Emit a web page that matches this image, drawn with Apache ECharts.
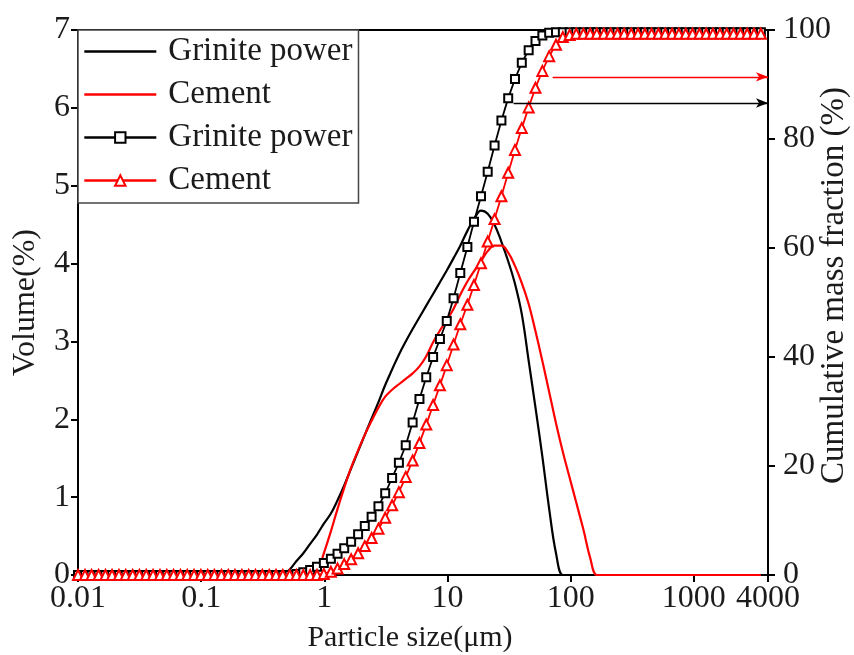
<!DOCTYPE html>
<html>
<head>
<meta charset="utf-8">
<script src="https://cdn.jsdelivr.net/npm/echarts@6/dist/echarts.min.js"></script>
<style>
  html, body { margin: 0; padding: 0; background: #fff; }
  #chart { width: 854px; height: 655px; }
</style>
</head>
<body>
<div id="chart"></div>
<script>
// Laser-diffraction size classes (µm)
const particleSizes = [
  0.0100, 0.0114, 0.0129, 0.0147, 0.0167, 0.0189, 0.0215, 0.0244, 0.0278, 0.0315,
  0.0358, 0.0407, 0.0463, 0.0526, 0.0597, 0.0679, 0.0771, 0.0876, 0.0995, 0.113,
  0.128, 0.146, 0.166, 0.188, 0.214, 0.243, 0.276, 0.314, 0.357, 0.405,
  0.460, 0.523, 0.594, 0.675, 0.767, 0.872, 0.991, 1.13, 1.28, 1.45,
  1.65, 1.88, 2.13, 2.42, 2.75, 3.12, 3.55, 4.03, 4.58, 5.21,
  5.92, 6.72, 7.64, 8.68, 9.86, 11.2, 12.7, 14.5, 16.4, 18.7,
  21.2, 24.1, 27.4, 31.1, 35.3, 40.1, 45.6, 51.8, 58.9, 66.9,
  76.0, 86.4, 98.1, 111, 127, 144, 163, 186, 211, 240,
  272, 310, 352, 400, 454, 516, 586, 666, 756, 859,
  976, 1110, 1260, 1430, 1630, 1850, 2100, 2390, 2710, 3080,
  3500
];

// Volume fraction per class (%)
const graniteVolume = [
  0, 0, 0, 0, 0, 0, 0, 0, 0, 0,
  0, 0, 0, 0, 0, 0, 0, 0, 0, 0,
  0, 0, 0, 0, 0, 0, 0, 0, 0, 0,
  0, 0.07, 0.18, 0.28, 0.40, 0.52, 0.66, 0.79, 0.96, 1.15,
  1.37, 1.59, 1.80, 2.01, 2.22, 2.44, 2.64, 2.83, 3.00, 3.16,
  3.31, 3.46, 3.61, 3.76, 3.91, 4.07, 4.23, 4.42, 4.57, 4.68,
  4.64, 4.50, 4.28, 4.03, 3.74, 3.35, 2.75, 2.15, 1.52, 0.85,
  0.28, 0, 0, 0, 0, 0, 0, 0, 0, 0,
  0, 0, 0, 0, 0, 0, 0, 0, 0, 0,
  0, 0, 0, 0, 0, 0, 0, 0, 0, 0,
  0
];
const cementVolume = [
  0, 0, 0, 0, 0, 0, 0, 0, 0, 0,
  0, 0, 0, 0, 0, 0, 0, 0, 0, 0,
  0, 0, 0, 0, 0, 0, 0, 0, 0, 0,
  0, 0, 0, 0, 0, 0.03, 0.28, 0.56, 0.85, 1.12,
  1.38, 1.60, 1.80, 1.98, 2.15, 2.29, 2.38, 2.45, 2.52, 2.59,
  2.68, 2.81, 2.99, 3.14, 3.27, 3.42, 3.60, 3.77, 3.90, 4.03,
  4.16, 4.23, 4.23, 4.14, 3.97, 3.75, 3.48, 3.13, 2.75, 2.35,
  1.95, 1.58, 1.25, 0.93, 0.58, 0.22, 0, 0, 0, 0,
  0, 0, 0, 0, 0, 0, 0, 0, 0, 0,
  0, 0, 0, 0, 0, 0, 0, 0, 0, 0,
  0
];

// Cumulative mass fraction below each size (%)
const graniteCumulative = [
  0, 0, 0, 0, 0, 0, 0, 0, 0, 0,
  0, 0, 0, 0, 0, 0, 0, 0, 0, 0,
  0, 0, 0, 0, 0, 0, 0, 0, 0, 0,
  0, 0, 0.2, 0.5, 0.9, 1.5, 2.2, 3.0, 3.9, 4.9,
  6.1, 7.5, 9.0, 10.7, 12.6, 15.0, 17.8, 20.6, 23.8, 28.0,
  32.3, 36.3, 40.0, 43.3, 46.6, 50.8, 55.4, 60.2, 64.8, 69.5,
  74.0, 78.8, 83.4, 87.5, 91.0, 94.0, 96.3, 98.0, 99.0, 99.5,
  99.6, 99.6, 99.6, 99.6, 99.6, 99.6, 99.6, 99.6, 99.6, 99.6,
  99.6, 99.6, 99.6, 99.6, 99.6, 99.6, 99.6, 99.6, 99.6, 99.6,
  99.6, 99.6, 99.6, 99.6, 99.6, 99.6, 99.6, 99.6, 99.6, 99.6,
  99.6
];
const cementCumulative = [
  0, 0, 0, 0, 0, 0, 0, 0, 0, 0,
  0, 0, 0, 0, 0, 0, 0, 0, 0, 0,
  0, 0, 0, 0, 0, 0, 0, 0, 0, 0,
  0, 0, 0, 0, 0, 0, 0.2, 0.6, 1.2, 2.0,
  2.9, 4.0, 5.3, 6.8, 8.5, 10.5, 12.8, 15.2, 18.0, 21.0,
  24.2, 27.6, 31.2, 34.8, 38.5, 42.3, 46.0, 49.6, 53.2, 57.2,
  61.2, 65.3, 69.5, 73.8, 78.0, 82.0, 85.8, 89.4, 92.5, 95.2,
  97.3, 98.7, 99.1, 99.3, 99.3, 99.3, 99.3, 99.3, 99.3, 99.3,
  99.3, 99.3, 99.3, 99.3, 99.3, 99.3, 99.3, 99.3, 99.3, 99.3,
  99.3, 99.3, 99.3, 99.3, 99.3, 99.3, 99.3, 99.3, 99.3, 99.3,
  99.3
];

// Axis ticks
const xTicks = [0.01, 0.1, 1, 10, 100, 1000, 4000];
const xTickLabels = ['0.01', '0.1', '1', '10', '100', '1000', '4000'];

// Arrows pointing the cumulative curves to the right-hand axis: start size (µm), level (%)
const graniteArrow = { from: 34.4, level: 86.6 };
const cementArrow = { from: 71.4, level: 91.4 };

// Legend entries: series id -> shown text
const legendText = {
  graniteVol: 'Grinite power',
  cementVol: 'Cement',
  graniteCum: 'Grinite power',
  cementCum: 'Cement'
};

const FONT = '"Liberation Serif", "Times New Roman", serif';
const TEXT = '#1b1b1b';
const BLACK = '#000000';
const RED = '#ff0000';

const pairs = (values) => particleSizes.map((s, i) => [s, values[i]]);

function arrowLine(arrow, color) {
  return {
    silent: true,
    symbol: ['none', 'arrow'],
    symbolSize: [7, 12],
    label: { show: false },
    lineStyle: { color: color, width: 1.3, type: 'solid' },
    data: [[
      { coord: [arrow.from, arrow.level] },
      { coord: [4000, arrow.level] }
    ]]
  };
}

const chart = echarts.init(document.getElementById('chart'), null, { renderer: 'canvas' });

chart.setOption({
  backgroundColor: '#ffffff',
  animation: false,
  grid: {
    left: 78, right: 86, top: 30, bottom: 80,
    outerBoundsMode: 'none',
    containLabel: false,
    show: true, borderColor: BLACK, borderWidth: 2, backgroundColor: 'transparent'
  },
  legend: {
    orient: 'vertical',
    left: 78, top: 30,
    padding: [5, 6, 6, 5],
    itemGap: 10,
    itemWidth: 72,
    itemHeight: 13,
    borderColor: '#444',
    borderWidth: 1.5,
    backgroundColor: '#fff',
    lineStyle: { width: 2.6 },
    formatter: (name) => legendText[name],
    textStyle: { fontFamily: FONT, fontSize: 33, color: TEXT, padding: [0, 0, 0, 7] },
    data: [
      { name: 'graniteVol', itemStyle: { opacity: 0 } },
      { name: 'cementVol', itemStyle: { opacity: 0 } },
      { name: 'graniteCum' },
      { name: 'cementCum' }
    ]
  },
  xAxis: {
    type: 'log',
    logBase: 10,
    min: 0.01,
    max: 4000,
    name: 'Particle size(μm)',
    nameLocation: 'middle',
    nameMoveOverlap: false,
    nameGap: 48,
    nameTextStyle: { fontFamily: FONT, fontSize: 30, color: TEXT, padding: [0, 26, 0, 0] },
    axisLine: { show: true, lineStyle: { color: BLACK, width: 2 } },
    axisTick: { show: true, inside: false, length: 7, lineStyle: { color: BLACK, width: 2 }, customValues: xTicks },
    axisLabel: {
      customValues: xTicks,
      fontFamily: FONT, fontSize: 32, color: TEXT, margin: 8,
      formatter: (v) => {
        const i = xTicks.findIndex(t => Math.abs(Math.log10(t) - Math.log10(v)) < 1e-6);
        return i >= 0 ? xTickLabels[i] : '';
      }
    },
    minorTick: { show: false },
    splitLine: { show: false }
  },
  yAxis: [
    {
      type: 'value',
      min: 0, max: 7, interval: 1,
      position: 'left',
      name: 'Volume(%)',
      nameLocation: 'middle',
      nameMoveOverlap: false,
      nameRotate: 90,
      nameGap: 36,
      nameTextStyle: { fontFamily: FONT, fontSize: 32, color: TEXT },
      axisLine: { show: true, lineStyle: { color: BLACK, width: 2 } },
      axisTick: { show: true, inside: false, length: 7, lineStyle: { color: BLACK, width: 2 } },
      axisLabel: { fontFamily: FONT, fontSize: 32, color: TEXT, margin: 8 },
      splitLine: { show: false }
    },
    {
      type: 'value',
      min: 0, max: 100, interval: 20,
      position: 'right',
      name: 'Cumulative mass fraction (%)',
      nameLocation: 'middle',
      nameMoveOverlap: false,
      nameRotate: 90,
      nameGap: 50,
      nameTextStyle: { fontFamily: FONT, fontSize: 33, color: TEXT, padding: [0, 0, 0, 34] },
      axisLine: { show: true, lineStyle: { color: BLACK, width: 2 } },
      axisTick: { show: true, inside: false, length: 7, lineStyle: { color: BLACK, width: 2 } },
      axisLabel: { fontFamily: FONT, fontSize: 32, color: TEXT, margin: 15 },
      splitLine: { show: false }
    }
  ],
  series: [
    {
      id: 'graniteVol', name: 'graniteVol', type: 'line',
      yAxisIndex: 0,
      data: pairs(graniteVolume),
      smooth: 0.4,
      symbol: 'none',
      lineStyle: { color: BLACK, width: 2.2 },
      itemStyle: { color: BLACK },
      z: 2
    },
    {
      id: 'cementVol', name: 'cementVol', type: 'line',
      yAxisIndex: 0,
      data: pairs(cementVolume),
      smooth: 0.4,
      symbol: 'none',
      lineStyle: { color: RED, width: 2.2 },
      itemStyle: { color: RED },
      z: 2
    },
    {
      id: 'graniteCum', name: 'graniteCum', type: 'line',
      yAxisIndex: 1,
      data: pairs(graniteCumulative),
      symbol: 'emptyRect',
      symbolSize: 8,
      showAllSymbol: true,
      clip: false,
      lineStyle: { color: BLACK, width: 1.8 },
      itemStyle: { color: BLACK, borderWidth: 1.5 },
      markLine: arrowLine(graniteArrow, BLACK),
      z: 3
    },
    {
      id: 'cementCum', name: 'cementCum', type: 'line',
      yAxisIndex: 1,
      data: pairs(cementCumulative),
      symbol: 'emptyTriangle',
      symbolSize: 10,
      showAllSymbol: true,
      clip: false,
      lineStyle: { color: RED, width: 1.8 },
      itemStyle: { color: RED, borderWidth: 1.5 },
      markLine: arrowLine(cementArrow, RED),
      z: 3
    }
  ]
});
</script>
</body>
</html>
